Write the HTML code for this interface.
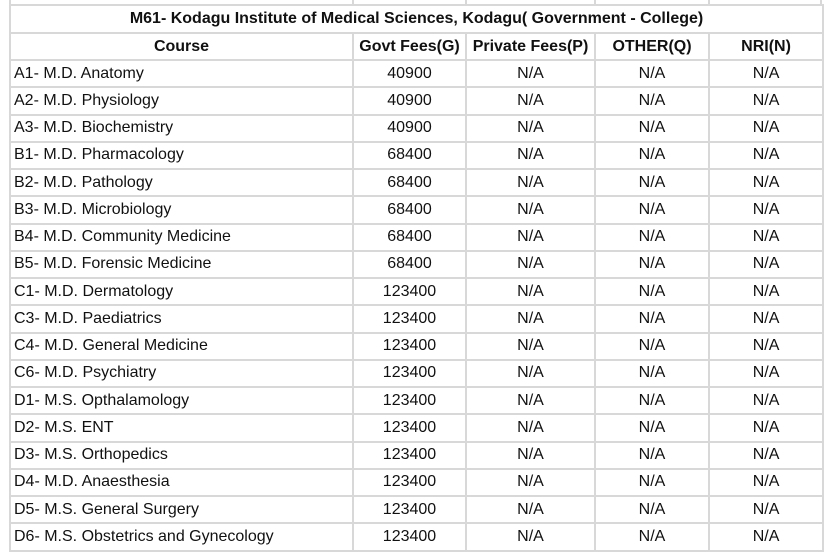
<!DOCTYPE html>
<html><head><meta charset="utf-8"><style>
html,body{margin:0;padding:0;background:#fff;width:837px;height:553px;overflow:hidden;position:relative}
body{font-family:"Liberation Sans",Arial,sans-serif;font-size:16px;color:#111}
table{position:absolute;left:9px;top:4px;border-collapse:collapse;table-layout:fixed;width:813px}
td,th{border:2px solid #d8d8d8;padding:0 4px;height:22px;line-height:22px;white-space:nowrap;overflow:hidden}
th{font-weight:bold;text-align:center}
td{text-align:center}
td.c{text-align:left;padding-left:3px}
tr.d{height:27.25px}
.stub{position:absolute;top:0;height:4px;border-left:2px solid #d8d8d8}
</style></head><body>
<div class="stub" style="left:9px"></div><div class="stub" style="left:352px"></div><div class="stub" style="left:465px"></div><div class="stub" style="left:594px"></div><div class="stub" style="left:708px"></div><div class="stub" style="left:820px"></div>
<table>
<colgroup><col style="width:343px"><col style="width:113px"><col style="width:129px"><col style="width:114px"><col style="width:114px"></colgroup>
<tr style="height:28px"><th colspan="5">M61- Kodagu Institute of Medical Sciences, Kodagu( Government - College)</th></tr>
<tr style="height:27px"><th>Course</th><th>Govt Fees(G)</th><th>Private Fees(P)</th><th>OTHER(Q)</th><th>NRI(N)</th></tr>
<tr class="d"><td class="c">A1- M.D. Anatomy</td><td>40900</td><td>N/A</td><td>N/A</td><td>N/A</td></tr>
<tr class="d"><td class="c">A2- M.D. Physiology</td><td>40900</td><td>N/A</td><td>N/A</td><td>N/A</td></tr>
<tr class="d"><td class="c">A3- M.D. Biochemistry</td><td>40900</td><td>N/A</td><td>N/A</td><td>N/A</td></tr>
<tr class="d"><td class="c">B1- M.D. Pharmacology</td><td>68400</td><td>N/A</td><td>N/A</td><td>N/A</td></tr>
<tr class="d"><td class="c">B2- M.D. Pathology</td><td>68400</td><td>N/A</td><td>N/A</td><td>N/A</td></tr>
<tr class="d"><td class="c">B3- M.D. Microbiology</td><td>68400</td><td>N/A</td><td>N/A</td><td>N/A</td></tr>
<tr class="d"><td class="c">B4- M.D. Community Medicine</td><td>68400</td><td>N/A</td><td>N/A</td><td>N/A</td></tr>
<tr class="d"><td class="c">B5- M.D. Forensic Medicine</td><td>68400</td><td>N/A</td><td>N/A</td><td>N/A</td></tr>
<tr class="d"><td class="c">C1- M.D. Dermatology</td><td>123400</td><td>N/A</td><td>N/A</td><td>N/A</td></tr>
<tr class="d"><td class="c">C3- M.D. Paediatrics</td><td>123400</td><td>N/A</td><td>N/A</td><td>N/A</td></tr>
<tr class="d"><td class="c">C4- M.D. General Medicine</td><td>123400</td><td>N/A</td><td>N/A</td><td>N/A</td></tr>
<tr class="d"><td class="c">C6- M.D. Psychiatry</td><td>123400</td><td>N/A</td><td>N/A</td><td>N/A</td></tr>
<tr class="d"><td class="c">D1- M.S. Opthalamology</td><td>123400</td><td>N/A</td><td>N/A</td><td>N/A</td></tr>
<tr class="d"><td class="c">D2- M.S. ENT</td><td>123400</td><td>N/A</td><td>N/A</td><td>N/A</td></tr>
<tr class="d"><td class="c">D3- M.S. Orthopedics</td><td>123400</td><td>N/A</td><td>N/A</td><td>N/A</td></tr>
<tr class="d"><td class="c">D4- M.D. Anaesthesia</td><td>123400</td><td>N/A</td><td>N/A</td><td>N/A</td></tr>
<tr class="d"><td class="c">D5- M.S. General Surgery</td><td>123400</td><td>N/A</td><td>N/A</td><td>N/A</td></tr>
<tr class="d"><td class="c">D6- M.S. Obstetrics and Gynecology</td><td>123400</td><td>N/A</td><td>N/A</td><td>N/A</td></tr>
</table>
</body></html>
